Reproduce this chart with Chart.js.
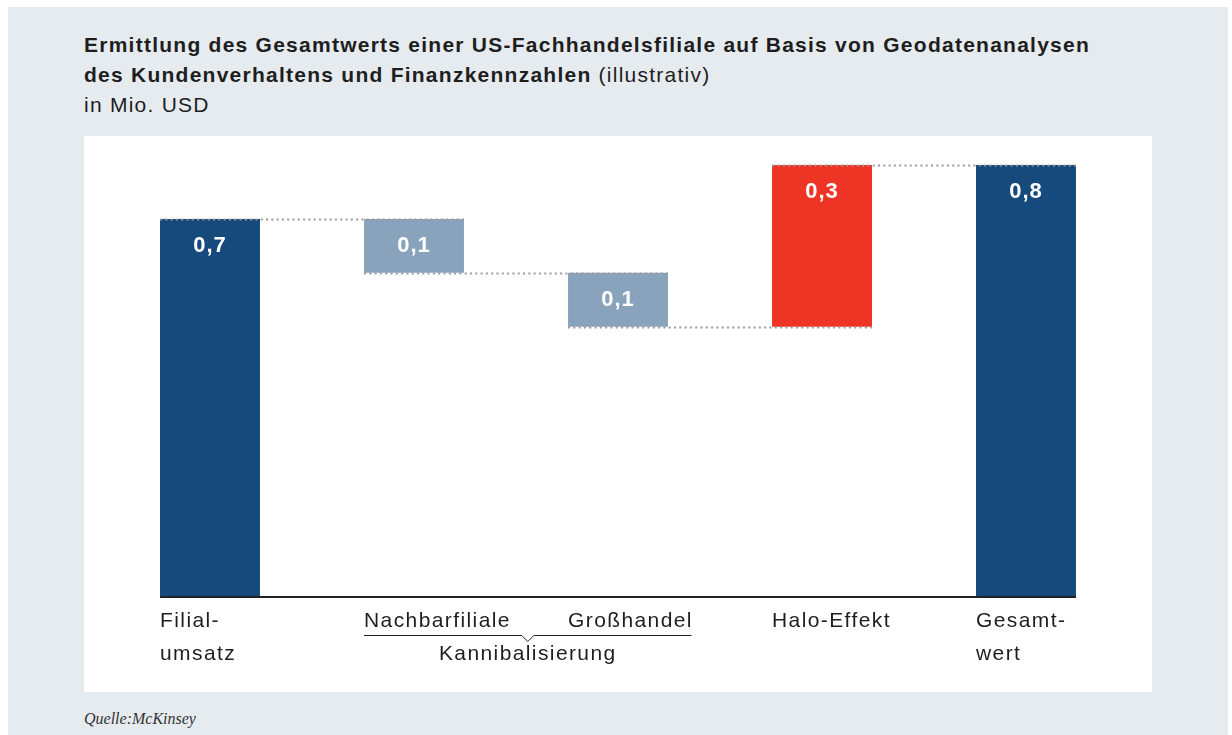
<!DOCTYPE html>
<html>
<head>
<meta charset="utf-8">
<title>Ermittlung des Gesamtwerts</title>
<script src="https://cdn.jsdelivr.net/npm/chart.js"></script>
<style>
  html, body { margin: 0; padding: 0; background: #fff; }
  body { width: 1232px; height: 735px; position: relative; overflow: hidden; font-family: "Liberation Sans", Arial, sans-serif; }
  #bg { position: absolute; left: 8px; top: 7px; width: 1220px; height: 728px; background: #e6ebef; }
  #title { position: absolute; left: 84px; top: 30px; font-size: 21px; line-height: 30px; color: #1e1e1e; letter-spacing: 1.25px; white-space: nowrap; }
  #title b { font-weight: bold; }
  #panel { position: absolute; left: 84px; top: 136px; width: 1068px; height: 556px; background: #fff; }
  #source { position: absolute; left: 84px; top: 709px; line-height: 20px; font-family: "Liberation Serif", "DejaVu Serif", serif; font-style: italic; font-size: 16px; color: #333; }
</style>
</head>
<body>
<div id="bg"></div>
<div id="title">
  <b>Ermittlung des Gesamtwerts einer US-Fachhandelsfiliale auf Basis von Geodatenanalysen</b><br>
  <b>des Kundenverhaltens und Finanzkennzahlen</b> (illustrativ)<br>
  in Mio. USD
</div>
<div id="panel"><canvas id="myChart" width="1068" height="556"></canvas></div>
<div id="source">Quelle:McKinsey</div>
<script>
// data
const categories = [["Filial-", "umsatz"], ["Nachbarfiliale"], ["Großhandel"], ["Halo-Effekt"], ["Gesamt-", "wert"]];
const deltas = [0.7, -0.1, -0.1, 0.3, 0.8];
const isTotal = [true, false, false, false, true];
const valueLabels = ["0,7", "0,1", "0,1", "0,3", "0,8"];
const groupLabel = "Kannibalisierung";
const groupMembers = [1, 2];
const barColors = ["#174a7c", "#8aa3bc", "#8aa3bc", "#ee3424", "#174a7c"];

// floating ranges for the waterfall
let running = 0;
const ranges = deltas.map((d, i) => {
  if (isTotal[i]) { running = d; return [0, d]; }
  const start = running;
  running = +(running + d).toFixed(4);
  return [Math.min(start, running), Math.max(start, running)];
});
const levels = [];
running = 0;
deltas.forEach((d, i) => { running = isTotal[i] ? d : +(running + d).toFixed(4); levels.push(running); });

const waterfallDecor = {
  id: "waterfallDecor",
  afterDatasetsDraw(chart) {
    const ctx = chart.ctx;
    const bars = chart.getDatasetMeta(0).data;
    const y = chart.scales.y;
    const box = bars.map(b => ({ left: b.x - b.width / 2, right: b.x + b.width / 2, x: b.x }));
    ctx.save();

    // dotted connectors
    ctx.strokeStyle = "#9a9a9a";
    ctx.lineWidth = 2;
    ctx.setLineDash([2, 3.3]);
    for (let i = 0; i < bars.length - 1; i++) {
      const py = Math.round(y.getPixelForValue(levels[i])) + 0.5;
      ctx.beginPath();
      ctx.moveTo(box[i].left, py);
      ctx.lineTo(box[i + 1].right, py);
      ctx.stroke();
    }
    ctx.setLineDash([]);

    // value labels
    ctx.fillStyle = "#fff";
    ctx.font = "bold 22px 'Liberation Sans', Arial, sans-serif";
    ctx.letterSpacing = "1px";
    ctx.textAlign = "center";
    ctx.textBaseline = "alphabetic";
    bars.forEach((b, i) => {
      const top = y.getPixelForValue(ranges[i][1]);
      ctx.fillText(valueLabels[i], b.x, top + 33);
    });

    // axis line
    const base = y.getPixelForValue(0);
    ctx.strokeStyle = "#222";
    ctx.lineWidth = 2;
    ctx.beginPath();
    ctx.moveTo(box[0].left, base + 1);
    ctx.lineTo(box[box.length - 1].right, base + 1);
    ctx.stroke();

    // category labels
    ctx.fillStyle = "#1e1e1e";
    ctx.font = "21px 'Liberation Sans', Arial, sans-serif";
    ctx.letterSpacing = "1.4px";
    ctx.textAlign = "left";
    categories.forEach((lines, i) => {
      lines.forEach((t, j) => ctx.fillText(t, box[i].left, base + 31 + j * 33));
    });

    // bracket for the group
    const gl = box[groupMembers[0]].left;
    const last = groupMembers[groupMembers.length - 1];
    const gr = box[last].left + ctx.measureText(categories[last][0]).width - 1.4;
    const gc = (gl + gr) / 2;
    const ly = base + 39.5;
    ctx.strokeStyle = "#222";
    ctx.lineWidth = 1;
    ctx.beginPath();
    ctx.moveTo(gl, ly);
    ctx.lineTo(gc - 6, ly);
    ctx.lineTo(gc, ly + 6);
    ctx.lineTo(gc + 6, ly);
    ctx.lineTo(gr, ly);
    ctx.stroke();
    ctx.textAlign = "center";
    ctx.fillText(groupLabel, gc, base + 64);

    ctx.restore();
  }
};

new Chart(document.getElementById("myChart"), {
  type: "bar",
  data: {
    labels: categories.map(l => l.join(" ")),
    datasets: [{
      data: ranges,
      backgroundColor: barColors,
      borderWidth: 0,
      barPercentage: 1,
      categoryPercentage: 0.49
    }]
  },
  options: {
    responsive: false,
    animation: false,
    layout: { padding: { left: 24, right: 24, top: 29, bottom: 96 } },
    plugins: { legend: { display: false }, tooltip: { enabled: false } },
    scales: {
      x: { display: false },
      y: { display: false, min: 0, max: 0.8 }
    }
  },
  plugins: [waterfallDecor]
});
</script>
</body>
</html>
